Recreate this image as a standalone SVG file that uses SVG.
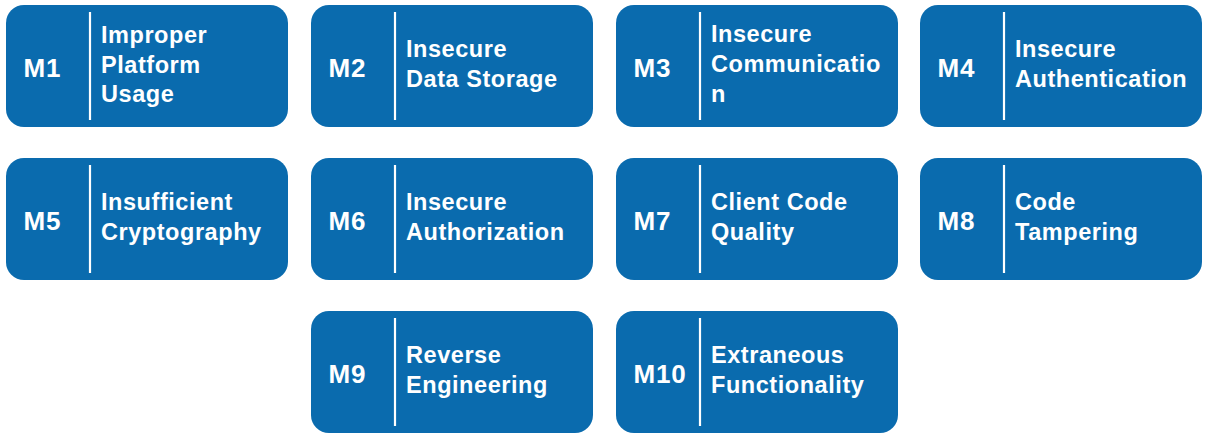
<svg xmlns="http://www.w3.org/2000/svg" width="1208" height="437" viewBox="0 0 1208 437">
<style>
.box{fill:#0A6BAE}
.div{stroke:#FFFFFF;stroke-width:2.2}
.num{font-family:"Liberation Sans",Arial,sans-serif;font-weight:bold;font-size:26px;fill:#FFFFFF;letter-spacing:0.8px}
.lbl{font-family:"Liberation Sans",Arial,sans-serif;font-weight:bold;font-size:23.5px;fill:#FFFFFF;letter-spacing:0.55px}
</style>
<rect width="1208" height="437" fill="#FFFFFF"/>
<g id="connectors"></g>
<g id="m1"><rect class="box" x="6" y="5" width="282" height="122" rx="18"/><line class="div" x1="90" y1="12" x2="90" y2="120"/><text class="num" x="23.5" y="77">M1</text><text class="lbl" x="101"><tspan x="101" y="43">Improper</tspan><tspan x="101" y="73">Platform</tspan><tspan x="101" y="102">Usage</tspan></text></g>
<g id="m2"><rect class="box" x="311" y="5" width="282" height="122" rx="18"/><line class="div" x1="395" y1="12" x2="395" y2="120"/><text class="num" x="328.5" y="77">M2</text><text class="lbl" x="406"><tspan x="406" y="57">Insecure</tspan><tspan x="406" y="87">Data Storage</tspan></text></g>
<g id="m3"><rect class="box" x="616" y="5" width="282" height="122" rx="18"/><line class="div" x1="700" y1="12" x2="700" y2="120"/><text class="num" x="633.5" y="77">M3</text><text class="lbl" x="711"><tspan x="711" y="42">Insecure</tspan><tspan x="711" y="72">Communicatio</tspan><tspan x="711" y="102">n</tspan></text></g>
<g id="m4"><rect class="box" x="920" y="5" width="282" height="122" rx="18"/><line class="div" x1="1004" y1="12" x2="1004" y2="120"/><text class="num" x="937.5" y="77">M4</text><text class="lbl" x="1015"><tspan x="1015" y="57">Insecure</tspan><tspan x="1015" y="87">Authentication</tspan></text></g>
<g id="m5"><rect class="box" x="6" y="158" width="282" height="122" rx="18"/><line class="div" x1="90" y1="165" x2="90" y2="273"/><text class="num" x="23.5" y="230">M5</text><text class="lbl" x="101"><tspan x="101" y="210">Insufficient</tspan><tspan x="101" y="240">Cryptography</tspan></text></g>
<g id="m6"><rect class="box" x="311" y="158" width="282" height="122" rx="18"/><line class="div" x1="395" y1="165" x2="395" y2="273"/><text class="num" x="328.5" y="230">M6</text><text class="lbl" x="406"><tspan x="406" y="210">Insecure</tspan><tspan x="406" y="240">Authorization</tspan></text></g>
<g id="m7"><rect class="box" x="616" y="158" width="282" height="122" rx="18"/><line class="div" x1="700" y1="165" x2="700" y2="273"/><text class="num" x="633.5" y="230">M7</text><text class="lbl" x="711"><tspan x="711" y="210">Client Code</tspan><tspan x="711" y="240">Quality</tspan></text></g>
<g id="m8"><rect class="box" x="920" y="158" width="282" height="122" rx="18"/><line class="div" x1="1004" y1="165" x2="1004" y2="273"/><text class="num" x="937.5" y="230">M8</text><text class="lbl" x="1015"><tspan x="1015" y="210">Code</tspan><tspan x="1015" y="240">Tampering</tspan></text></g>
<g id="m9"><rect class="box" x="311" y="311" width="282" height="122" rx="18"/><line class="div" x1="395" y1="318" x2="395" y2="426"/><text class="num" x="328.5" y="383">M9</text><text class="lbl" x="406"><tspan x="406" y="363">Reverse</tspan><tspan x="406" y="393">Engineering</tspan></text></g>
<g id="m10"><rect class="box" x="616" y="311" width="282" height="122" rx="18"/><line class="div" x1="700" y1="318" x2="700" y2="426"/><text class="num" x="633.5" y="383">M10</text><text class="lbl" x="711"><tspan x="711" y="363">Extraneous</tspan><tspan x="711" y="393">Functionality</tspan></text></g>
</svg>
